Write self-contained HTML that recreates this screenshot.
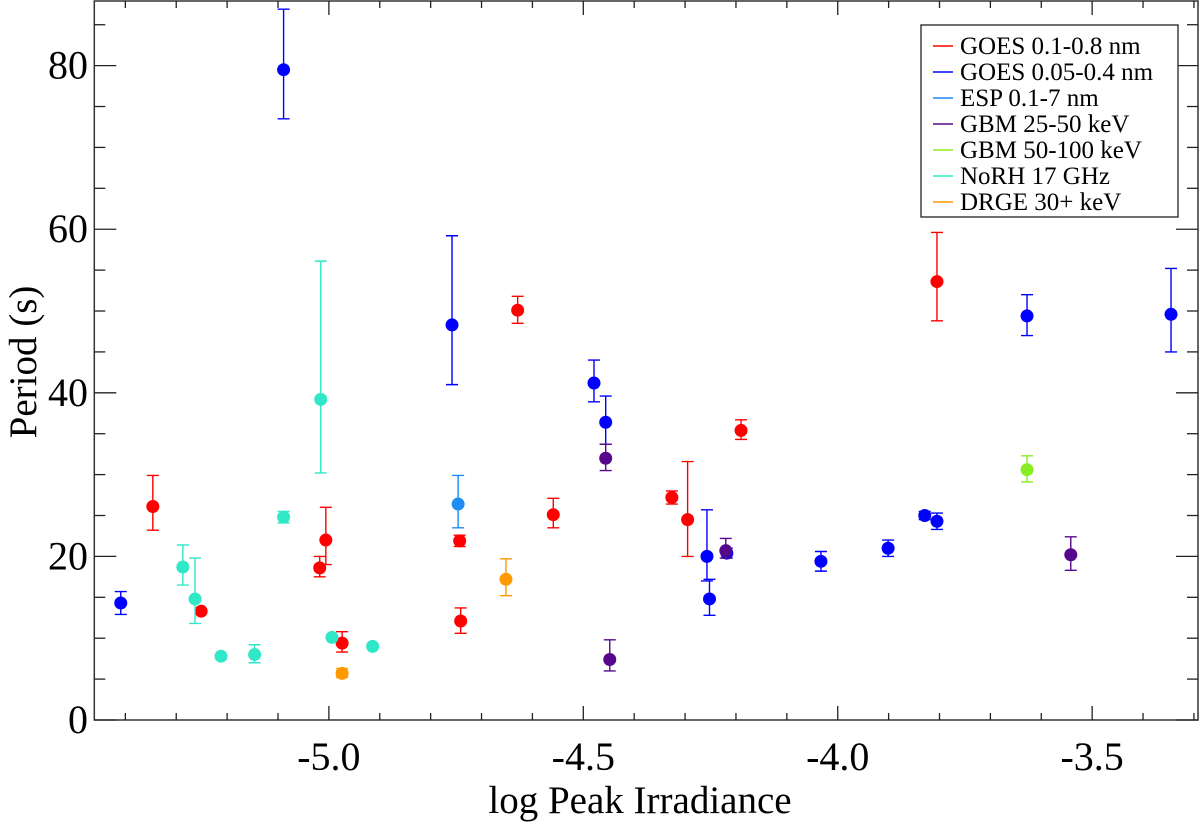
<!DOCTYPE html>
<html><head><meta charset="utf-8"><style>
body{margin:0;background:#fff}
svg{display:block;font-family:"Liberation Serif",serif}
</style></head><body>
<svg id="chart" width="1200" height="830"></svg>
<script>
const xTicks=[-5.0,-4.5,-4.0,-3.5];
const xTickLabels=["-5.0","-4.5","-4.0","-3.5"];
const yTicks=[0,20,40,60,80];
const yTickLabels=["0","20","40","60","80"];
const seriesNames=["GOES 0.1-0.8 nm","GOES 0.05-0.4 nm","ESP 0.1-7 nm","GBM 25-50 keV","GBM 50-100 keV","NoRH 17 GHz","DRGE 30+ keV"];
const seriesColors=["#ff0000","#0000ff","#1e8cf0","#55088c","#88ee22","#30e8c8","#ff9900"];
const goesRedX=[-5.346,-5.251,-5.018,-5.006,-4.974,-4.743,-4.629,-4.741,-4.559,-4.326,-4.295,-4.190,-3.805];
const goesRedY=[26.1,13.3,18.6,22.0,9.4,21.9,50.1,12.1,25.1,27.2,24.5,35.4,53.6];
const goesRedLo=[23.2,13.3,17.5,19.0,8.3,21.2,48.5,10.6,23.5,26.4,20.0,34.3,48.8];
const goesRedHi=[29.9,13.3,20.0,26.0,10.8,22.6,51.8,13.7,27.1,28.0,31.6,36.7,59.6];
const goesBlueX=[-5.409,-5.089,-4.758,-4.479,-4.456,-4.257,-4.252,-4.218,-4.033,-3.901,-3.829,-3.805,-3.628,-3.345];
const goesBlueY=[14.3,79.5,48.3,41.2,36.4,20.0,14.8,20.4,19.4,21.0,25.0,24.3,49.4,49.6];
const goesBlueLo=[12.9,73.5,41.0,38.9,33.7,17.0,12.8,19.8,18.2,20.0,24.5,23.3,47.0,45.0];
const goesBlueHi=[15.7,86.9,59.2,44.0,39.6,25.7,17.2,21.0,20.6,22.0,25.5,25.3,52.0,55.2];
const espX=[-4.746];
const espY=[26.4];
const espLo=[23.5];
const espHi=[29.9];
const gbm1X=[-4.456,-4.448,-4.220,-3.542];
const gbm1Y=[32.0,7.4,20.7,20.2];
const gbm1Lo=[30.5,6.0,19.8,18.3];
const gbm1Hi=[33.7,9.8,22.2,22.4];
const gbm2X=[-3.628];
const gbm2Y=[30.6];
const gbm2Lo=[29.1];
const gbm2Hi=[32.3];
const norhX=[-5.287,-5.263,-5.212,-5.146,-5.089,-5.016,-4.994,-4.914];
const norhY=[18.7,14.8,7.8,8.0,24.8,39.2,10.1,9.0];
const norhLo=[16.5,11.8,7.8,7.0,24.1,30.2,10.1,9.0];
const norhHi=[21.4,19.8,7.8,9.2,25.5,56.1,10.1,9.0];
const drgeX=[-4.652,-4.974];
const drgeY=[17.2,5.7];
const drgeLo=[15.2,5.2];
const drgeHi=[19.7,6.3];

const L=94.3,R=1198,T=1,B=720;
const xMin=-5.461,xMax=-3.292,yMin=0,yMax=87.9;
const sx=v=>L+(v-xMin)/(xMax-xMin)*(R-L);
const sy=v=>B-(v-yMin)/(yMax-yMin)*(B-T);
const svg=document.getElementById('chart');
const NS="http://www.w3.org/2000/svg";
function mk(tag,attrs,parent){const e=document.createElementNS(NS,tag);for(const k in attrs)e.setAttribute(k,attrs[k]);(parent||svg).appendChild(e);return e;}

const frame=mk('rect',{x:L,y:T,width:R-L,height:B-T,fill:'none',stroke:'#333','stroke-width':1.5});



for(let k=-54;k<=-33;k++){
  const r=k/10;const major=(k%5===0);
  const x=sx(r);if(x<L||x>R)continue;const len=major?14:7;
  const t1=mk('line',{x1:x,x2:x,y1:B,y2:B-len,stroke:'#222','stroke-width':1.3});
  
  
  const t2=mk('line',{x1:x,x2:x,y1:T,y2:T+len,stroke:'#222','stroke-width':1.3});
  
  
}
xTicks.forEach((v,i)=>{
  const t=mk('text',{x:sx(v),y:770,'font-size':40,'text-anchor':'middle'});
  t.textContent=xTickLabels[i];
  
  
});
for(let v=0;v<=85;v+=5){
  const major=v%20===0;const y=sy(v);const len=major?22:11;
  const t1=mk('line',{x1:L,x2:L+len,y1:y,y2:y,stroke:'#222','stroke-width':1.3});
  
  
  const t2=mk('line',{x1:R,x2:R-len,y1:y,y2:y,stroke:'#222','stroke-width':1.3});
  
  
}
yTicks.forEach((v,i)=>{
  const t=mk('text',{x:88,y:sy(v)+13,'font-size':40,'text-anchor':'end'});
  t.textContent=yTickLabels[i];
  
  
});
const xt=mk('text',{x:640,y:813,'font-size':39,'text-anchor':'middle'});
xt.textContent='log Peak Irradiance';


const yt=mk('text',{x:0,y:0,'font-size':39,'text-anchor':'middle',transform:'translate(36,362) rotate(-90)'});
yt.textContent='Period (s)';



const allSeries=[[goesRedX,goesRedY,goesRedLo,goesRedHi],[goesBlueX,goesBlueY,goesBlueLo,goesBlueHi],[espX,espY,espLo,espHi],[gbm1X,gbm1Y,gbm1Lo,gbm1Hi],[gbm2X,gbm2Y,gbm2Lo,gbm2Hi],[norhX,norhY,norhLo,norhHi],[drgeX,drgeY,drgeLo,drgeHi]];
allSeries.forEach((s,si)=>{
  const c=seriesColors[si];
  const g=mk('g',{});
  
  
  s[0].forEach((xv,i)=>{
    const x=sx(xv),y=sy(s[1][i]),ylo=sy(s[2][i]),yhi=sy(s[3][i]);
    if(s[3][i]-s[2][i]>0.01){
      const e=mk('path',{d:`M${x},${ylo}V${yhi}M${x-6},${yhi}H${x+6}M${x-6},${ylo}H${x+6}`,stroke:c,'stroke-width':1.4,fill:'none'},g);
      
      
    }
    const p=mk('circle',{cx:x,cy:y,r:6.5,fill:c},g);
    
    
  });
});

const lg=mk('g',{});


const lb=mk('rect',{x:921,y:25,width:257,height:192,fill:'#fff',stroke:'#222','stroke-width':1.3},lg);


seriesNames.forEach((n,i)=>{
  const y=46+i*26;
  const ln=mk('line',{x1:933,x2:953,y1:y,y2:y,stroke:seriesColors[i],'stroke-width':1.5},lg);
  
  
  const t=mk('text',{x:960,y:y+8,'font-size':25},lg);
  t.textContent=n;
  
  
});
</script>
</body></html>
